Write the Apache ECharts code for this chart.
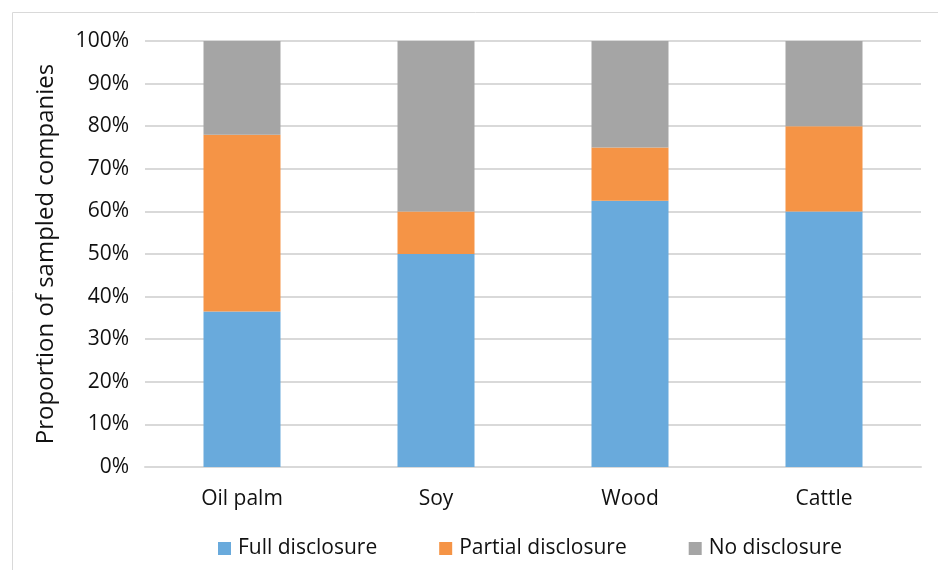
<!DOCTYPE html>
<html>
<head>
<meta charset="utf-8">
<script src="https://cdn.jsdelivr.net/npm/echarts@6/dist/echarts.min.js"></script>
<style>
    html, body { margin: 0; padding: 0; background: #fff; }
    #chart { width: 938px; height: 570px; }
</style>
</head>
<body>
<div id="chart"></div>
<script>
    const categories = ['Oil palm', 'Soy', 'Wood', 'Cattle']
    const fullDisclosure = [36.5, 50, 62.5, 60]
    const partialDisclosure = [41.5, 10, 12.5, 20]
    const noDisclosure = [22, 40, 25, 20]

    const font = '"Open Sans", "Noto Sans", sans-serif'
    const chart = echarts.init(document.getElementById('chart'))

    const option = {
        animation: false,
        textStyle: { fontFamily: font },
        graphic: [{
            type: 'rect',
            shape: { x: 12.5, y: 12.5, width: 1000, height: 1000 },
            style: { fill: 'none', stroke: '#d9d9d9', lineWidth: 1 }
        }],
        grid: { left: 145, right: 17, top: 41, bottom: 103 },
        legend: {
            bottom: 6,
            left: 213,
            itemWidth: 13,
            itemHeight: 13,
            itemGap: 62,
            icon: 'rect',
            textStyle: { fontSize: 21, color: '#111', fontFamily: font, padding: [0, 0, 0, 2] }
        },
        xAxis: {
            type: 'category',
            data: categories,
            axisTick: { show: false },
            axisLine: { lineStyle: { color: '#d9d9d9', width: 2 } },
            axisLabel: { fontSize: 21, color: '#111', margin: 22 }
        },
        yAxis: {
            type: 'value',
            min: 0,
            max: 100,
            interval: 10,
            name: 'Proportion of sampled companies',
            nameLocation: 'middle',
            nameGap: 87,
            nameTextStyle: { fontSize: 24, color: '#111' },
            axisLabel: { fontSize: 21, color: '#111', margin: 16, formatter: '{value}%' },
            splitLine: { lineStyle: { color: '#d9d9d9', width: 2 } }
        },
        series: [
            { name: 'Full disclosure', type: 'bar', stack: 'all', barWidth: 77, data: fullDisclosure, itemStyle: { color: '#69aadc' } },
            { name: 'Partial disclosure', type: 'bar', stack: 'all', data: partialDisclosure, itemStyle: { color: '#f59446' } },
            { name: 'No disclosure', type: 'bar', stack: 'all', data: noDisclosure, itemStyle: { color: '#a5a5a5' } }
        ]
    }
    chart.setOption(option)
</script>
</body>
</html>
